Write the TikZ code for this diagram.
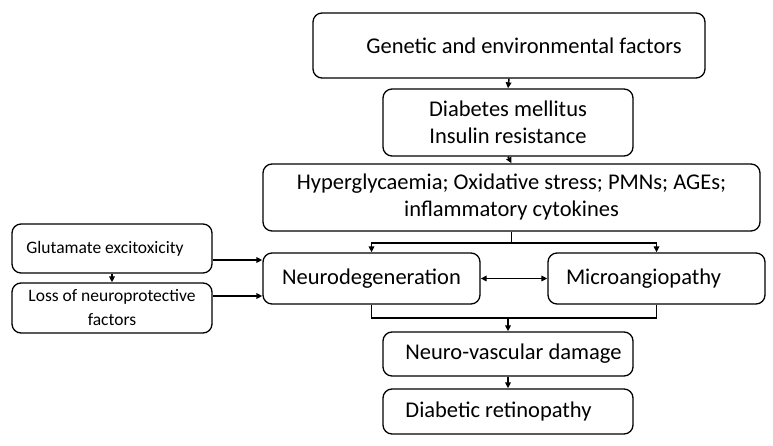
\documentclass[tikz,border=0pt]{standalone}
\usepackage{fontspec}
\setmainfont{Carlito}
\usetikzlibrary{arrows.meta}

\begin{document}
\begin{tikzpicture}[x=1pt,y=-1pt,line width=1.5pt,
    box/.style={draw,rounded corners=9pt,align=center,inner sep=0pt,
                line width=1.3pt,font=\fontsize{22.5}{27}\selectfont},
    smallbox/.style={box,font=\fontsize{17.5}{24}\selectfont},
    tip/.style={-{Triangle[length=6pt,width=5.5pt]}}]
\path[use as bounding box] (0,0) rectangle (773,446);
  % main chain
  \node[box,minimum width=392pt,minimum height=65pt] (genetic) at (509,45.5)
    {\hspace*{30pt}Genetic and environmental factors};
  \node[box,minimum width=250pt,minimum height=67pt] (diabetes) at (508,122.5)
    {Diabetes mellitus\\Insulin resistance};
  \node[box,minimum width=497pt,minimum height=67pt] (hyper) at (511.5,197.5)
    {Hyperglycaemia; Oxidative stress; PMNs; AGEs;\\inflammatory cytokines};
  \node[box,minimum width=217pt,minimum height=51pt] (neuro) at (371.5,278.5)
    {Neurodegeneration};
  \node[box,minimum width=217pt,minimum height=51pt] (micro) at (656.5,278.5)
    {Microangiopathy\hspace*{26pt}};
  \node[box,minimum width=250pt,minimum height=44pt] (damage) at (508,354)
    {\hspace*{11pt}Neuro-vascular damage};
  \node[box,minimum width=250pt,minimum height=45pt] (retino) at (508,411.5)
    {Diabetic retinopathy\hspace*{19pt}};
  % side boxes
  \node[smallbox,minimum width=200pt,minimum height=49pt] (glutamate) at (112,248.5)
    {Glutamate excitoxicity\hspace*{14pt}};
  \node[smallbox,minimum width=200pt,minimum height=50pt] (loss) at (112,308)
    {Loss of neuroprotective\\factors};
  % arrows
  \foreach \a/\b in {genetic/diabetes,diabetes/hyper,damage/retino}
    \draw[tip] (\a.south) -- (\b.north);
  \draw[tip] (glutamate) -- (loss);
  \draw[tip] (glutamate.east |- 0,260) -- (neuro.west |- 0,260);
  \draw[tip] (loss.east |- 0,296) -- (neuro.west |- 0,296);
  \coordinate (split) at (hyper.south |- 0,243);
  \draw (hyper.south) -- (split);
  \draw[tip] (split) -| (neuro.north);
  \draw[tip] (split) -| (micro.north);
  \draw[{Triangle[length=6pt,width=5.5pt]}-{Triangle[length=6pt,width=5.5pt]}]
    (neuro) -- (micro);
  \coordinate (join) at (damage.north |- 0,318);
  \draw (neuro.south) |- (join) -| (micro.south);
  \draw[tip] (join) -- (damage.north);
\end{tikzpicture}
\end{document}
